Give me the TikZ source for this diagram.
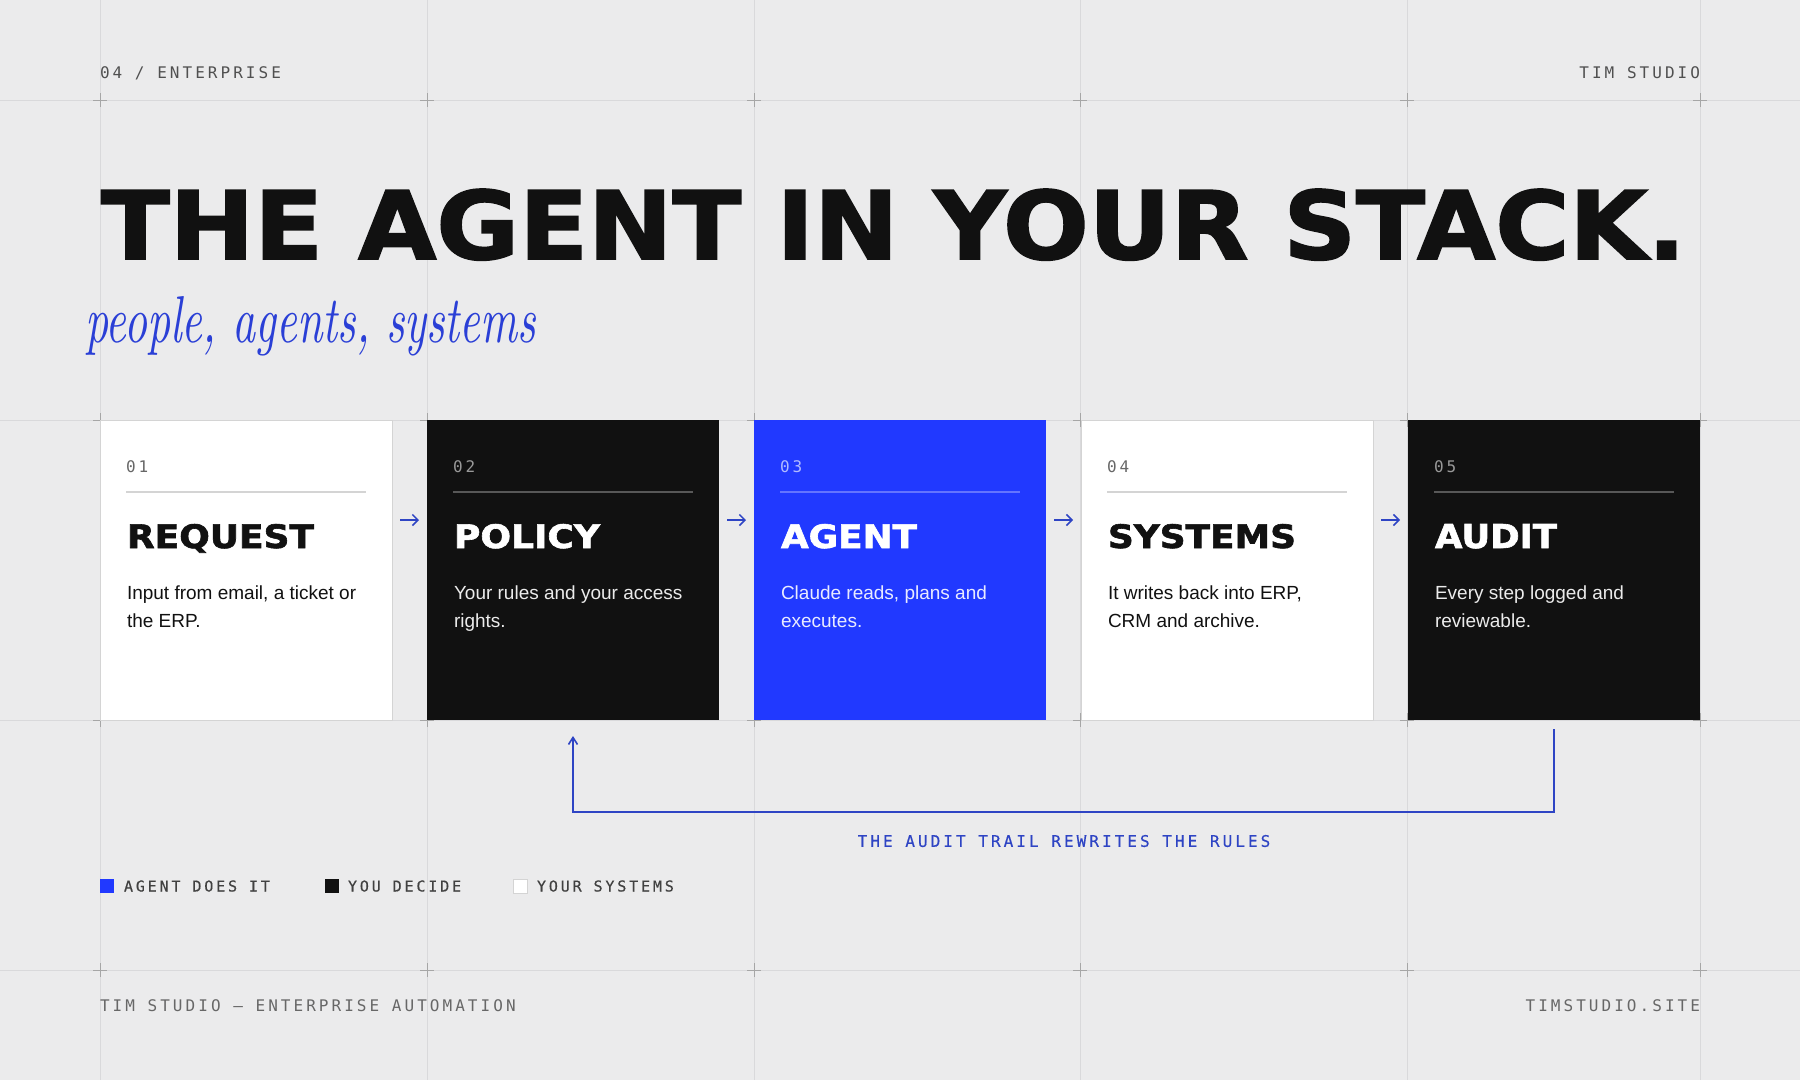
\documentclass[tikz,border=0pt]{standalone}
\usepackage{fontspec}
\usetikzlibrary{arrows.meta}
\newfontfamily\monof{DejaVu Sans Mono}[LetterSpace=19]
\newfontfamily\monobf{DejaVu Sans Mono}[LetterSpace=19,FakeBold=0.4]
\newfontfamily\bodyf{Liberation Sans}
\newfontfamily\heavyf{DejaVu Sans Bold}[FakeBold=1.8]
\definecolor{bg}{HTML}{EBEBEC}
\definecolor{gridc}{HTML}{D9D9DB}
\definecolor{crossc}{HTML}{A6A6A6}
\definecolor{ink}{HTML}{111111}
\definecolor{blueC}{HTML}{2139FF}
\definecolor{accent}{HTML}{2E44C4}
\definecolor{scriptc}{HTML}{2A3FD6}
\definecolor{headc}{HTML}{505050}
\definecolor{footc}{HTML}{676767}
\definecolor{cardline}{HTML}{D4D4D4}
\begin{document}
\begin{tikzpicture}[x=1pt,y=-1pt,
  gridline/.style={draw=gridc, line width=0.9pt},
  crossmark/.style={draw=crossc, line width=0.9pt},
  mono/.style={font=\monof\fontsize{16}{16}\selectfont, inner sep=0pt, outer sep=0pt},
  legmono/.style={font=\monobf\fontsize{15}{15}\selectfont, inner sep=0pt, outer sep=0pt, text=ink!80, anchor=base west},
  card/.style={minimum width=292pt, minimum height=300pt, inner sep=0pt, outer sep=0pt, anchor=north west},
  num/.style={mono, anchor=base west},
  ctitle/.style={inner sep=0pt, outer sep=0pt, anchor=base west},
  desc/.style={font=\bodyf\fontsize{19}{28}\selectfont, inner sep=0pt, outer sep=0pt, anchor=base west},
  sepline/.style={line width=1.4pt},
  flow/.style={draw=accent, line width=1.5pt, -{Straight Barb[length=5.5pt,width=11pt]}, shorten <=8pt, shorten >=8pt},
  fb/.style={draw=accent, line width=1.6pt, -{Straight Barb[length=7pt,width=9pt]}},
  legsq/.style={minimum width=14pt, minimum height=14pt, inner sep=0pt, outer sep=0pt}
]
\useasboundingbox (0,0) rectangle (1800,1080);
\fill[bg] (0,0) rectangle (1800,1080);
% grid
\foreach \x in {100,427,754,1080,1407,1700} \draw[gridline] (\x,0) -- (\x,1080);
\foreach \y in {100,420,720,970} \draw[gridline] (0,\y) -- (1800,\y);
\foreach \x in {100,427,754,1080,1407,1700} {
  \foreach \y in {100,420,720,970} {
    \draw[crossmark] (\x-7,\y) -- (\x+7,\y);
    \draw[crossmark] (\x,\y-7) -- (\x,\y+7);
  }
}
% header
\node[mono, text=headc, anchor=base west] (hdl) at (100,78.5) {04 / ENTERPRISE};
\node[mono, text=headc, anchor=base east] (hdr) at (1700,78.5) {TIM STUDIO};
% title
\node[ctitle, text=ink] (title) at (101,259) {\resizebox{1584pt}{70pt}{\heavyf THE AGENT IN YOUR STACK.}};
\node[ctitle, text=scriptc] (sub) at (85,342) {\resizebox{451pt}{46pt}{\itshape people, agents, systems}};
% cards
\node[card, fill=white, draw=cardline, line width=1pt] (c1) at (100,420) {};
\node[card, fill=ink] (c2) at (427,420) {};
\node[card, fill=blueC] (c3) at (754,420) {};
\node[card, fill=white, draw=cardline, line width=1pt] (c4) at (1081,420) {};
\node[card, fill=ink] (c5) at (1408,420) {};
% card 1
\node[num, text=footc] (n1) at (126,472.5) {01};
\draw[sepline, draw=cardline] (126,492) -- (366,492);
\node[ctitle, text=ink] (t1) at (127,548) {\resizebox{187pt}{24pt}{\heavyf REQUEST}};
\node[desc, text=ink] (d1a) at (127,599) {Input from email, a ticket or};
\node[desc, text=ink] (d1b) at (127,627) {the ERP.};
% card 2
\node[num, text=gray!80] (n2) at (453,472.5) {02};
\draw[sepline, draw=white!30!ink] (453,492) -- (693,492);
\node[ctitle, text=white] (t2) at (454,548) {\resizebox{146pt}{24pt}{\heavyf POLICY}};
\node[desc, text=white!92!black] (d2a) at (454,599) {Your rules and your access};
\node[desc, text=white!92!black] (d2b) at (454,627) {rights.};
% card 3
\node[num, text=white!65!blueC] (n3) at (780,472.5) {03};
\draw[sepline, draw=white!30!blueC] (780,492) -- (1020,492);
\node[ctitle, text=white] (t3) at (781,548) {\resizebox{136pt}{24pt}{\heavyf AGENT}};
\node[desc, text=white!90!blueC] (d3a) at (781,599) {Claude reads, plans and};
\node[desc, text=white!90!blueC] (d3b) at (781,627) {executes.};
% card 4
\node[num, text=footc] (n4) at (1107,472.5) {04};
\draw[sepline, draw=cardline] (1107,492) -- (1347,492);
\node[ctitle, text=ink] (t4) at (1108,548) {\resizebox{188pt}{24pt}{\heavyf SYSTEMS}};
\node[desc, text=ink] (d4a) at (1108,599) {It writes back into ERP,};
\node[desc, text=ink] (d4b) at (1108,627) {CRM and archive.};
% card 5
\node[num, text=gray!80] (n5) at (1434,472.5) {05};
\draw[sepline, draw=white!30!ink] (1434,492) -- (1674,492);
\node[ctitle, text=white] (t5) at (1435,548) {\resizebox{122pt}{24pt}{\heavyf AUDIT}};
\node[desc, text=white!92!black] (d5a) at (1435,599) {Every step logged and};
\node[desc, text=white!92!black] (d5b) at (1435,627) {reviewable.};
% flow arrows
\draw[flow] ([yshift=50pt]c1.east) -- ([yshift=50pt]c2.west);
\draw[flow] ([yshift=50pt]c2.east) -- ([yshift=50pt]c3.west);
\draw[flow] ([yshift=50pt]c3.east) -- ([yshift=50pt]c4.west);
\draw[flow] ([yshift=50pt]c4.east) -- ([yshift=50pt]c5.west);
% feedback loop
\draw[fb] ([yshift=-9pt]c5.south) -- ++(0,83) -| ([yshift=-16pt]c2.south);
\node[inner sep=0pt, outer sep=0pt, font=\monobf\fontsize{16}{16}\selectfont, text=accent] (fbl) at (1064,841) {THE AUDIT TRAIL REWRITES THE RULES};
% legend
\node[legsq, fill=blueC] (l1) at (107,886) {};
\node[legmono] (lt1) at (124,891.5) {AGENT DOES IT};
\node[legsq, fill=ink] (l2) at (332,886) {};
\node[legmono] (lt2) at (348,891.5) {YOU DECIDE};
\node[legsq, fill=white, draw=cardline, line width=1pt] (l3) at (520,886) {};
\node[legmono] (lt3) at (537,891.5) {YOUR SYSTEMS};
% footer
\node[mono, text=footc, anchor=base west] (fl) at (100,1011) {TIM STUDIO — ENTERPRISE AUTOMATION};
\node[mono, text=footc, anchor=base east] (fr) at (1700,1011) {TIMSTUDIO.SITE};
\end{tikzpicture}
\end{document}
